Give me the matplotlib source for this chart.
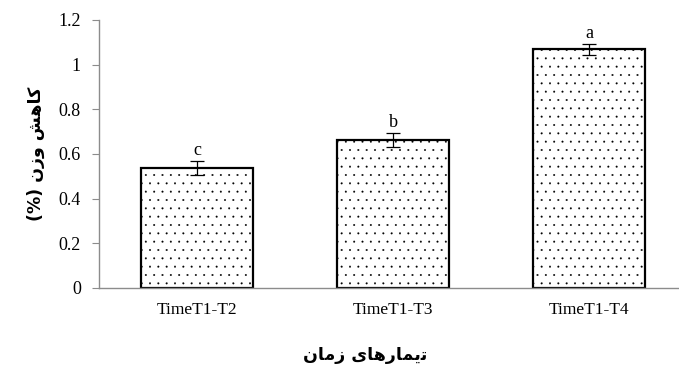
import matplotlib
matplotlib.use("Agg")
from matplotlib import pyplot as plt
import numpy as np

# data
groups = ["TimeT1-T2", "TimeT1-T3", "TimeT1-T4"]
weight_loss = [0.537, 0.662, 1.068]
errors = [0.03, 0.03, 0.025]
letters = ["c", "b", "a"]

# Persian labels, written in presentation forms (visual order) so they join correctly
ylabel_fa = "(%) \uFEE5\uFEAF\uFEED \uFEB6\uFEEB\uFE8E\uFB90"   # کاهش وزن (%)
xlabel_fa = "\uFEE5\uFE8E\uFEE3\uFEAF \uFBFC\uFE8E\uFEEB\uFEAD\uFE8E\uFEE4\uFBFE\uFE97"  # تیمارهای زمان

plt.rcParams["font.family"] = ["Liberation Serif", "DejaVu Sans"]
plt.rcParams["hatch.linewidth"] = 0.2
plt.rcParams["hatch.color"] = "#555555"

fig = plt.figure(figsize=(6.79, 3.9), dpi=100)
ax = fig.add_axes([99 / 679, 102 / 390, 588 / 679, 268 / 390])

x = np.arange(len(groups))
ax.bar(x, weight_loss, width=0.57, color="white", edgecolor="black",
       linewidth=1.6, hatch="..")
ax.errorbar(x, weight_loss, yerr=errors, fmt="none", ecolor="black",
            elinewidth=0.9, capsize=5, capthick=0.9)

for xi, v, e, t in zip(x, weight_loss, errors, letters):
    ax.text(xi, v + e + 0.01, t, ha="center", va="bottom", fontsize=13)

ax.set_xlim(-0.5, 2.5)
ax.set_ylim(0, 1.2)
ax.set_yticks(np.arange(0, 1.21, 0.2))
ax.set_yticklabels(["0", "0.2", "0.4", "0.6", "0.8", "1", "1.2"], fontsize=13)
ax.set_xticks(x)
ax.set_xticklabels(groups, fontsize=12.5)

for s in ["top", "right"]:
    ax.spines[s].set_visible(False)
for s in ["left", "bottom"]:
    ax.spines[s].set_color("#8c8c8c")
    ax.spines[s].set_linewidth(1)
ax.tick_params(axis="y", direction="out", length=5, color="#8c8c8c", pad=8)
ax.tick_params(axis="x", length=0, pad=10)

ax.set_ylabel(ylabel_fa, family=["DejaVu Sans"], fontsize=12.5, fontweight="bold", labelpad=10)
fig.text(365 / 679, 1 - 355 / 390, xlabel_fa, family=["DejaVu Sans"], fontsize=12.5,
         fontweight="bold", ha="center", va="center")

plt.savefig("out.png", dpi=100)
